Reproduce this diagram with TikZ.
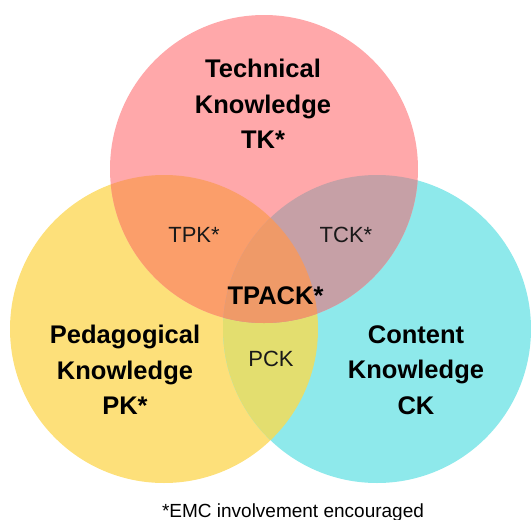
\documentclass[tikz,border=0pt]{standalone}
\usepackage{fontspec}
\setmainfont{Liberation Sans}
\definecolor{cRed}{HTML}{FFA8AA}
\definecolor{cYel}{HTML}{FDE07A}
\definecolor{cCya}{HTML}{8EE9EB}
\definecolor{cRY}{HTML}{FB9E6A}
\definecolor{cRC}{HTML}{C6A0A6}
\definecolor{cYC}{HTML}{E3DE6F}
\definecolor{cRYC}{HTML}{EF9A68}
\tikzset{
  big/.style={font=\fontsize{25.5}{35.5}\selectfont\bfseries, align=center, text=black, inner sep=0pt},
  small/.style={font=\fontsize{22}{25}\selectfont, text=black!90, inner sep=0pt},
}
\begin{document}
\begin{tikzpicture}[x=1pt,y=-1pt]
\useasboundingbox (0,0) rectangle (531,520);
\def\redc{(264,169) circle (154)}
\def\yelc{(164,329) circle (154)}
\def\cyac{(377,329) circle (154)}
\fill[cYel] \yelc;
\fill[cCya] \cyac;
\fill[cRed] \redc;
\begin{scope}\clip \yelc; \fill[cYC] \cyac; \end{scope}
\begin{scope}\clip \redc; \fill[cRY] \yelc; \fill[cRC] \cyac; \end{scope}
\begin{scope}\clip \redc; \clip \yelc; \fill[cRYC] \cyac; \end{scope}
\node[big] (tk) at (263,104) {Technical\\Knowledge\\TK*};
\node[big] (pk) at (125,370) {Pedagogical\\Knowledge\\PK*};
\node[big] (ck) at (416,370) {Content\\Knowledge\\CK};
\node[big] (tpack) at (275.5,296) {TPACK*};
\node[small] (tpk) at (194,235) {TPK*};
\node[small] (tck) at (346,235) {TCK*};
\node[small] (pck) at (271,359) {PCK};
\node[font=\fontsize{19}{22}\selectfont, anchor=base, inner sep=0pt] (foot) at (293,517) {*EMC involvement encouraged};
\end{tikzpicture}
\end{document}
